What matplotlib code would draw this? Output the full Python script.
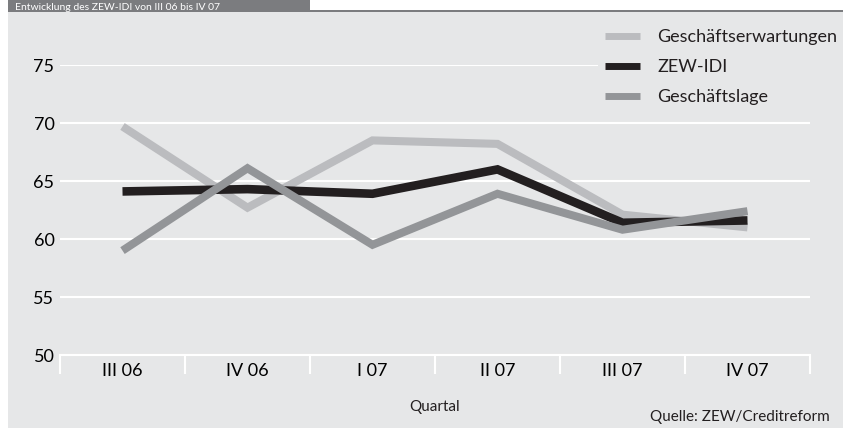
import matplotlib
matplotlib.use("Agg")
import matplotlib.pyplot as plt
from matplotlib.patches import Rectangle
from matplotlib.lines import Line2D

# data
quartale = ["III 06", "IV 06", "I 07", "II 07", "III 07", "IV 07"]
erwartungen = [69.7, 62.7, 68.5, 68.2, 62.1, 61.0]
zew_idi = [64.1, 64.3, 63.9, 66.0, 61.4, 61.6]
lage = [59.0, 66.1, 59.5, 63.9, 60.8, 62.4]

title = "Entwicklung des ZEW-IDI von III 06 bis IV 07"
source = "Quelle: ZEW/Creditreform"

bg = "#e6e7e8"
bar = "#7b7c7f"
c_erw = "#bbbcbf"
c_idi = "#231f20"
c_lage = "#939598"

plt.rcParams["font.family"] = ["Lato", "DejaVu Sans"]
plt.rcParams["text.color"] = "#231f20"

W, H = 843, 428
fig = plt.figure(figsize=(W / 100, H / 100), dpi=100, facecolor="white")


def px(x0, y0, x1, y1):
    # pixel box (top-left origin) -> figure fraction rect
    return (x0 / W, 1 - y1 / H), (x1 - x0) / W, (y1 - y0) / H


for (xy, w, h), col in [(px(8, 12, W, H), bg), (px(8, 0, 310, 12), bar),
                        (px(310, 10, W, 12), bar)]:
    fig.add_artist(Rectangle(xy, w, h, transform=fig.transFigure,
                             facecolor=col, edgecolor="none", zorder=0))

# title is squeezed into the thin header bar
fig.text(15 / W, 1 - 9.5 / H, title, color="white", fontsize=7.5,
         va="baseline", ha="left")

ax = fig.add_axes([60 / W, 1 - 355 / H, 750 / W, 290 / H])
ax.set_facecolor(bg)
ax.patch.set_alpha(0)

x = list(range(len(quartale)))
ax.plot(x, erwartungen, color=c_erw, lw=5.8, solid_joinstyle="miter",
        solid_capstyle="butt", zorder=3)
ax.plot(x, zew_idi, color=c_idi, lw=6.2, solid_joinstyle="miter",
        solid_capstyle="butt", zorder=4)
ax.plot(x, lage, color=c_lage, lw=5.8, solid_joinstyle="miter",
        solid_capstyle="butt", zorder=5)

ax.set_xlim(-0.5, len(quartale) - 0.5)
ax.set_ylim(50, 75)
ax.set_yticks([50, 55, 60, 65, 70, 75])
ax.yaxis.grid(True, color="white", lw=1.5)
ax.set_axisbelow(True)
for s in ["top", "right", "left"]:
    ax.spines[s].set_visible(False)
ax.spines["bottom"].set_color("white")
ax.spines["bottom"].set_linewidth(1.5)

ax.set_xticks([i - 0.5 for i in range(len(quartale) + 1)])
ax.set_xticklabels([])
ax.set_xticks(x, minor=True)
ax.set_xticklabels(quartale, minor=True)
ax.tick_params(axis="x", which="major", length=14, width=1.5, color="white")
ax.tick_params(axis="x", which="minor", length=0, pad=6, labelsize=13)
ax.tick_params(axis="y", length=0, pad=4, labelsize=13)

fig.text(435 / W, 1 - 407 / H, "Quartal", ha="center", va="center",
         fontsize=11)
fig.text(830 / W, 1 - 417 / H, source, ha="right", va="center", fontsize=11)

handles = [Line2D([], [], color=c, lw=5, solid_capstyle="butt")
           for c in (c_erw, c_idi, c_lage)]
leg = fig.legend(handles, ["Geschäftserwartungen", "ZEW-IDI", "Geschäftslage"],
                 loc="upper left", bbox_to_anchor=(589 / W, 1 - 13 / H),
                 frameon=True, facecolor=bg, edgecolor="none", framealpha=1,
                 fontsize=13, handlelength=1.95, handletextpad=0.95,
                 labelspacing=0.78, borderpad=0.4)
leg.set_zorder(6)

fig.savefig("out.png", dpi=100, facecolor="white")
